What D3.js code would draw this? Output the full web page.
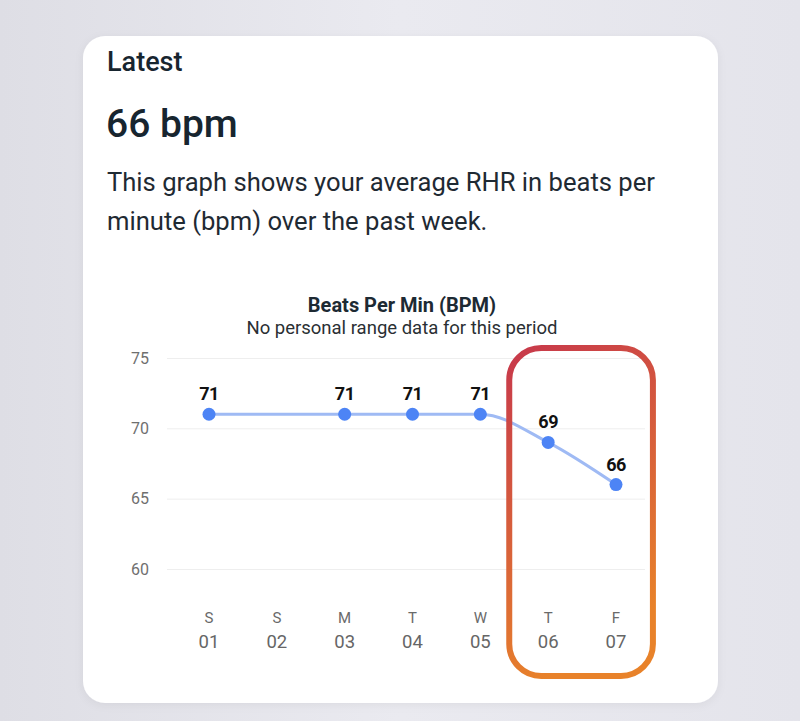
<!DOCTYPE html>
<html>
<head>
<meta charset="utf-8">
<script src="https://cdn.jsdelivr.net/npm/d3@7/dist/d3.min.js"></script>
<style>
  html, body { margin: 0; padding: 0; }
  body { width: 800px; height: 721px; overflow: hidden; font-family: Roboto, "Noto Sans", sans-serif; }
</style>
</head>
<body>
<svg id="chart" width="800" height="721"></svg>
<script>
const dayLetters = ["S", "S", "M", "T", "W", "T", "F"];
const dayNumbers = ["01", "02", "03", "04", "05", "06", "07"];
const bpmValues = [71, null, 71, 71, 71, 69, 66];
const yTicks = [60, 65, 70, 75];
const highlightDays = ["06", "07"];

const svg = d3.select("#chart");
const defs = svg.append("defs");

const bg = defs.append("linearGradient").attr("id", "bg").attr("x1", 0).attr("y1", 0).attr("x2", 1).attr("y2", 0);
bg.append("stop").attr("offset", 0).attr("stop-color", "#dedee5");
bg.append("stop").attr("offset", 0.5).attr("stop-color", "#eaeaf0");
bg.append("stop").attr("offset", 1).attr("stop-color", "#e4e4eb");
svg.append("rect").attr("width", 800).attr("height", 721).attr("fill", "url(#bg)");

const shadow = defs.append("filter").attr("id", "shadow").attr("x", -0.1).attr("y", -0.1).attr("width", 1.2).attr("height", 1.2);
shadow.append("feDropShadow").attr("dx", 0).attr("dy", 2).attr("stdDeviation", 4).attr("flood-color", "#000").attr("flood-opacity", 0.06);

svg.append("rect").attr("x", 83).attr("y", 36).attr("width", 635).attr("height", 667)
  .attr("rx", 22).attr("fill", "#fff").attr("filter", "url(#shadow)");

// Header texts
svg.append("text").attr("x", 107).attr("y", 71).text("Latest")
  .attr("font-size", 27).attr("font-weight", 500).attr("fill", "#17252f");
svg.append("text").attr("x", 106).attr("y", 137).text("66 bpm")
  .attr("font-size", 39).attr("font-weight", 500).attr("fill", "#17252f");
svg.append("text").attr("x", 107).attr("y", 191).text("This graph shows your average RHR in beats per")
  .attr("font-size", 25.6).attr("fill", "#1f2a33");
svg.append("text").attr("x", 107).attr("y", 230).text("minute (bpm) over the past week.")
  .attr("font-size", 25.6).attr("fill", "#1f2a33");

// Chart titles
svg.append("text").attr("x", 402).attr("y", 312).attr("text-anchor", "middle").text("Beats Per Min (BPM)")
  .attr("font-size", 20).attr("font-weight", 700).attr("fill", "#1d2a33");
svg.append("text").attr("x", 402).attr("y", 334).attr("text-anchor", "middle").text("No personal range data for this period")
  .attr("font-size", 18.5).attr("fill", "#2a2f33");

const x = d3.scalePoint().domain(dayNumbers).range([209, 616]);
const y = d3.scaleLinear().domain([60, 75]).range([569, 358]);

const gridLeft = 167, gridRight = 645;
const yAxis = d3.axisLeft(y).tickValues(yTicks).tickSize(-(gridRight - gridLeft)).tickPadding(18);
const gy = svg.append("g").attr("transform", `translate(${gridLeft},0)`).call(yAxis);
gy.select(".domain").remove();
gy.selectAll(".tick line").attr("stroke", "#eeeeee").attr("stroke-width", 1);
gy.selectAll(".tick text").attr("font-size", 16).attr("fill", "#6f6f6f").attr("font-family", "Roboto, sans-serif");

// X axis: two-line labels
const xAxisG = svg.append("g");
const xt = xAxisG.selectAll("g").data(dayNumbers).join("g").attr("transform", d => `translate(${x(d)},0)`);
xt.append("text").attr("y", 623).attr("text-anchor", "middle").text((d, i) => dayLetters[i])
  .attr("font-size", 15).attr("fill", "#6a6a6a");
xt.append("text").attr("y", 648).attr("text-anchor", "middle").text(d => d)
  .attr("font-size", 18.5).attr("fill", "#666");

// Data
const data = dayNumbers.map((d, i) => ({ day: d, v: bpmValues[i] })).filter(d => d.v !== null);

const line = d3.line().x(d => x(d.day)).y(d => y(d.v)).curve(d3.curveMonotoneX);
svg.append("path").datum(data).attr("d", line).attr("fill", "none")
  .attr("stroke", "#9fbaf4").attr("stroke-width", 3);

svg.append("g").selectAll("circle").data(data).join("circle")
  .attr("cx", d => x(d.day)).attr("cy", d => y(d.v)).attr("r", 6.5).attr("fill", "#4d84f5");

svg.append("g").selectAll("text").data(data).join("text")
  .attr("x", d => x(d.day)).attr("y", d => y(d.v) - 14).attr("text-anchor", "middle")
  .text(d => d.v).attr("font-size", 18).attr("font-weight", 700).attr("letter-spacing", -0.5).attr("fill", "#111");

// Highlight box
const hg = defs.append("linearGradient").attr("id", "hl").attr("x1", 0).attr("y1", 0).attr("x2", 0.3).attr("y2", 1);
hg.append("stop").attr("offset", 0).attr("stop-color", "#c7384b");
hg.append("stop").attr("offset", 0.55).attr("stop-color", "#d8613a");
hg.append("stop").attr("offset", 1).attr("stop-color", "#e8822a");
const step = x.step();
const hx0 = x(highlightDays[0]) - step / 2 - 5, hx1 = x(highlightDays[1]) + step / 2 + 3;
svg.append("rect").attr("x", hx0).attr("y", 348).attr("width", hx1 - hx0).attr("height", 328)
  .attr("rx", 32).attr("fill", "none").attr("stroke", "url(#hl)").attr("stroke-width", 6);
</script>
</body>
</html>
